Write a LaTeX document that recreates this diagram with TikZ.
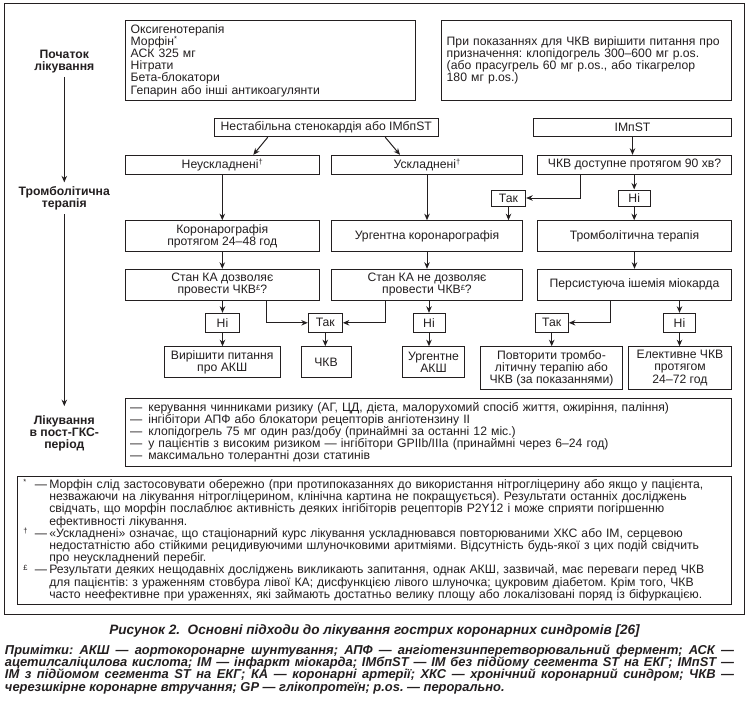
\documentclass[tikz,border=0pt]{standalone}
\usepackage{fontspec}
\setmainfont{Liberation Sans}
\usetikzlibrary{arrows.meta,calc}
\definecolor{ink}{HTML}{231F20}
\frenchspacing
\newcommand\fs{\fontsize{12.2}{12.2}\selectfont\lineskiplimit=-6pt\frenchspacing}
\newcommand\capfont{\fontsize{13.6}{13.6}\selectfont\bfseries\itshape\frenchspacing}
\newcommand\notesfont{\fontsize{12.9}{12.2}\selectfont\lineskiplimit=-6pt\bfseries\itshape\frenchspacing}
\newcommand\mysup[1]{\raisebox{3.6pt}{\fontsize{7.5}{7.5}\selectfont #1}}
\newcommand\fmark[1]{\makebox[26pt][l]{\makebox[11.7pt][l]{\mysup{#1}}—}}
\newcommand\fcont{\hspace*{26pt}}
\newcommand\pdash{\makebox[18.3pt][l]{—}}
\begin{document}
\frenchspacing
\begin{tikzpicture}[x=1pt,y=1pt,
  box/.style={draw=ink, line width=1pt, rectangle, inner sep=0pt, align=center, font=\fs, text=ink},
  arr/.style={draw=ink, line width=1pt, -{Stealth[length=6.5pt,width=5.5pt]}},
  lab/.style={font=\fs\bfseries, align=center, text=ink, inner sep=0pt}]
\useasboundingbox (0,0) rectangle (749,-717);
\fill[white] (0,0) rectangle (749,-717);
% outer frame
\node[draw=ink, line width=1pt, minimum width=740, minimum height=610, inner sep=0pt] (frame) at (374,-309) {};
% timeline labels
\node[lab] (lab1) at (64.3,-61.2) {Початок\\лікування};
\node[lab] (lab2) at (64.3,-198.4) {Тромболітична\\терапія};
\node[lab] (lab3) at (64.3,-433.2) {Лікування\\в пост-ГКС-\\період};
\draw[arr] ($(lab1.south)+(0,-4)$) -- ($(lab2.north)+(0,4)$);
\draw[arr] ($(lab2.south)+(0,-4)$) -- ($(lab3.north)+(0,9)$);
% top boxes
\node[box, minimum width=290.4, minimum height=79.3, text width=279.6, inner xsep=5.4, align=left] (b1) at (270.5,-60.35)
 {Оксигенотерапія\\Морфін\mysup{*}\\АСК 325 мг\\Нітрати\\Бета-блокатори\\Гепарин або інші антикоагулянти};
\node[box, minimum width=290, minimum height=79.3, text width=280, inner xsep=5, align=left] (b2) at (586.7,-60.35)
 {При показаннях для ЧКВ вирішити питання про\\призначення: клопідогрель 300–600 мг p.os.\\(або прасугрель 60 мг p.os., або тікагрелор\\180 мг p.os.)};
% row 1
\node[box, minimum width=224, minimum height=18.4] (nest) at (326.3,-127.5) {Нестабільна стенокардія або ІМбпST};
\node[box, minimum width=198.4, minimum height=18.4] (imst) at (632.5,-127.5) {ІМпST};
% row 2
\node[box, minimum width=194, minimum height=19] (neus) at (222.3,-164.8) {Неускладнені\mysup{†}};
\node[box, minimum width=190.6, minimum height=19] (usk) at (427,-164.8) {Ускладнені\mysup{†}};
\node[box, minimum width=194.4, minimum height=19] (pci90) at (634.5,-164.8) {ЧКВ доступне протягом 90 хв?};
\node[box, minimum width=34.4, minimum height=16] (tak1) at (508.5,-198) {Так};
\node[box, minimum width=31.7, minimum height=16] (ni1) at (634.2,-198) {Ні};
% row 3
\node[box, minimum width=194, minimum height=31] (r3a) at (222.3,-236.2) {Коронарографія\\протягом 24–48 год};
\node[box, minimum width=190.6, minimum height=31] (r3b) at (427,-236.2) {Ургентна коронарографія};
\node[box, minimum width=194.4, minimum height=31] (r3c) at (634.5,-236.2) {Тромболітична терапія};
% row 4
\node[box, minimum width=194, minimum height=30.7] (r4a) at (222.3,-284.65) {Стан КА дозволяє\\провести ЧКВ\mysup{£}?};
\node[box, minimum width=190.6, minimum height=30.7] (r4b) at (427,-284.65) {Стан КА не дозволяє\\провести ЧКВ\mysup{£}?};
\node[box, minimum width=194.4, minimum height=30.7] (r4c) at (634.5,-284.65) {Персистуюча ішемія міокарда};
% yes/no row
\node[box, minimum width=33.6, minimum height=19] (ni2) at (222.5,-322.8) {Ні};
\node[box, minimum width=34, minimum height=19] (tak2) at (325.3,-322.8) {Так};
\node[box, minimum width=32, minimum height=19] (ni3) at (429,-322.8) {Ні};
\node[box, minimum width=33.3, minimum height=19] (tak3) at (551.7,-322.8) {Так};
\node[box, minimum width=32.4, minimum height=19] (ni4) at (679.5,-322.8) {Ні};
% final row
\node[box, minimum width=115.7, minimum height=30.6] (f1) at (222.2,-362) {Вирішити питання\\про АКШ};
\node[box, minimum width=50, minimum height=30.6] (f2) at (326,-362) {ЧКВ};
\node[box, minimum width=62.4, minimum height=30.6] (f3) at (433.5,-362) {Ургентне\\АКШ};
\node[box, minimum width=141.6, minimum height=42.6] (f4) at (551.5,-368) {Повторити тромбо-\\літичну терапію або\\ЧКВ (за показаннями)};
\node[box, minimum width=103.4, minimum height=42.6] (f5) at (680,-368) {Елективне ЧКВ\\протягом\\24–72 год};
% post box
\node[box, minimum width=606.4, minimum height=67.7, text width=597, inner xsep=4.7, align=left] (post) at (428.5,-432.15)
 {\pdash керування чинниками ризику (АГ, ЦД, дієта, малорухомий спосіб життя, ожиріння, паління)\\
  \pdash інгібітори АПФ або блокатори рецепторів ангіотензину II\\
  \pdash клопідогрель 75 мг один раз/добу (принаймні за останні 12 міс.)\\
  \pdash у пацієнтів з високим ризиком — інгібітори GPIIb/IIIa (принаймні через 6–24 год)\\
  \pdash максимально толерантні дози статинів};
% footnotes box
\node[box, minimum width=714.4, minimum height=127.5, text width=702.4, inner xsep=6, align=left] (foot) at (374.5,-540.25)
 {\fmark{*}Морфін слід застосовувати обережно (при протипоказаннях до використання нітрогліцерину або якщо у пацієнта,\\
  \fcont незважаючи на лікування нітрогліцерином, клінічна картина не покращується). Результати останніх досліджень\\
  \fcont свідчать, що морфін послаблює активність деяких інгібіторів рецепторів P2Y12 і може сприяти погіршенню\\
  \fcont ефективності лікування.\\
  \fmark{†}«Ускладнені» означає, що стаціонарний курс лікування ускладнювався повторюваними ХКС або ІМ, серцевою\\
  \fcont недостатністю або стійкими рецидивуючими шлуночковими аритміями. Відсутність будь-якої з цих подій свідчить\\
  \fcont про неускладнений перебіг.\\
  \fmark{£}Результати деяких нещодавніх досліджень викликають запитання, однак АКШ, зазвичай, має переваги перед ЧКВ\\
  \fcont для пацієнтів: з ураженням стовбура лівої КА; дисфункцією лівого шлуночка; цукровим діабетом. Крім того, ЧКВ\\
  \fcont часто неефективне при ураженнях, які займають достатньо велику площу або локалізовані поряд із біфуркацією.};
% connectors
\draw[arr] ($(nest.south west)+(54,0)$) -- ($(neus.north)+(31,0)$);
\draw[arr] ($(nest.south west)+(171.4,0)$) -- ($(usk.north)+(-27,0)$);
\draw[arr] (imst.south) -- (imst.south |- pci90.north);
\draw[arr] ($(pci90.south)+(-53.8,0)$) |- (tak1);
\draw[arr] (ni1.north |- pci90.south) -- (ni1.north);
\draw[arr] (neus) -- (r3a);
\draw[arr] (usk) -- (r3b);
\draw[arr] (tak1) -- (tak1 |- r3b.north);
\draw[arr] (ni1) -- (ni1 |- r3c.north);
\draw[arr] (r3a) -- (r4a);
\draw[arr] (r3b) -- (r4b);
\draw[arr] (r3c) -- (r4c);
\draw[arr] (r4a.south -| ni2) -- (ni2);
\draw[arr] ($(r4a.south)+(44.4,0)$) |- (tak2);
\draw[arr] ($(r4b.south)+(-41.3,0)$) |- (tak2);
\draw[arr] (r4b.south -| ni3) -- (ni3);
\draw[arr] ($(r4c.south)+(-23.8,0)$) |- (tak3);
\draw[arr] (r4c.south -| ni4) -- (ni4);
\draw[arr] (ni2) -- (ni2 |- f1.north);
\draw[arr] (tak2) -- (tak2 |- f2.north);
\draw[arr] (ni3) -- (ni3 |- f3.north);
\draw[arr] (tak3) -- (tak3 |- f4.north);
\draw[arr] (ni4) -- (ni4 |- f5.north);
% caption and notes
\node[font=\capfont, text=ink, inner sep=0pt] (cap) at (374.5,-630.7)
 {Рисунок 2.\ \ Основні підходи до лікування гострих коронарних синдромів [26]};
\node[font=\notesfont, text=ink, inner sep=0pt, text width=729, align=justify] (notes) at (369.5,-669.35)
 {Примітки: АКШ — аортокоронарне шунтування; АПФ — ангіотензинперетворювальний фермент; АСК —\linebreak
  ацетилсаліцилова кислота; ІМ — інфаркт міокарда; ІМбпST — ІМ без підйому сегмента ST на ЕКГ; ІМпST —\linebreak
  ІМ з підйомом сегмента ST на ЕКГ; КА — коронарні артерії; ХКС — хронічний коронарний синдром; ЧКВ —\linebreak
  черезшкірне коронарне втручання; GP — глікопротеїн; p.os. — перорально.};
\end{tikzpicture}
\end{document}
